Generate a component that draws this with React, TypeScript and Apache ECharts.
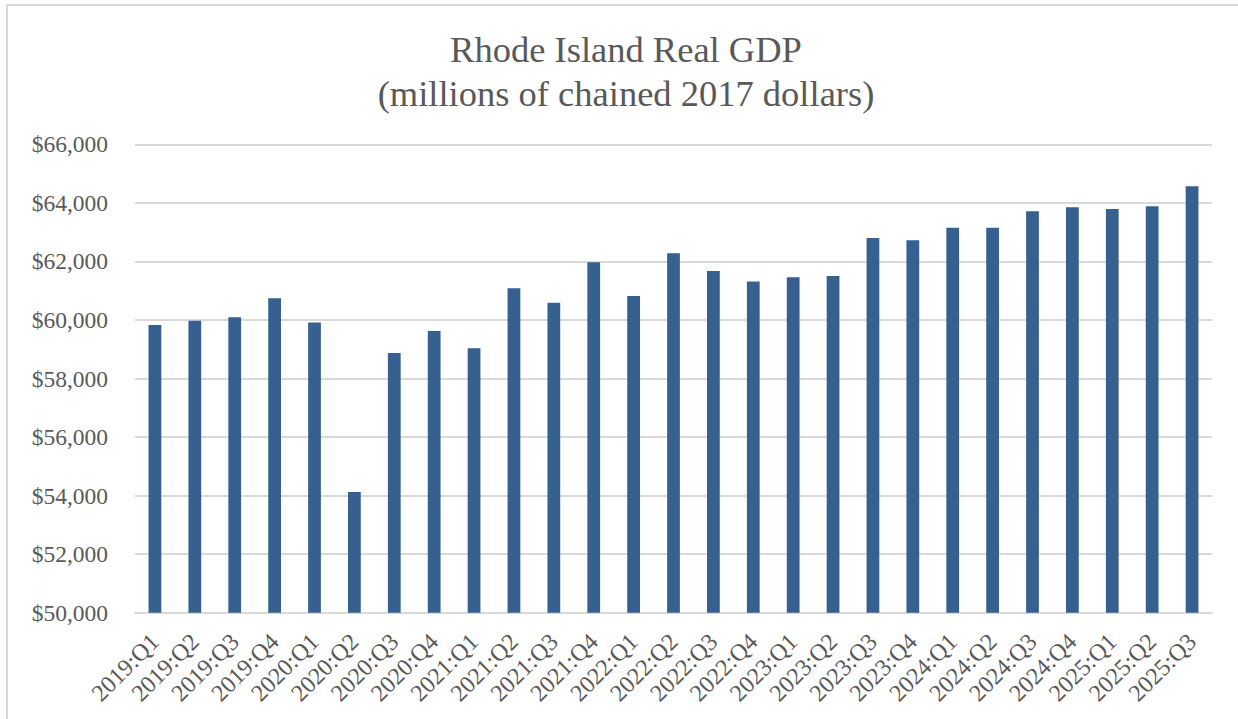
import React, { useEffect, useRef } from "react";
import * as echarts from "echarts";

const categories = [
  "2019:Q1", "2019:Q2", "2019:Q3", "2019:Q4",
  "2020:Q1", "2020:Q2", "2020:Q3", "2020:Q4",
  "2021:Q1", "2021:Q2", "2021:Q3", "2021:Q4",
  "2022:Q1", "2022:Q2", "2022:Q3", "2022:Q4",
  "2023:Q1", "2023:Q2", "2023:Q3", "2023:Q4",
  "2024:Q1", "2024:Q2", "2024:Q3", "2024:Q4",
  "2025:Q1", "2025:Q2", "2025:Q3",
];

const gdpValues = [
  59830, 59970, 60090, 60740,
  59910, 54120, 58870, 59620,
  59030, 61080, 60590, 61970,
  60820, 62280, 61670, 61310,
  61460, 61500, 62800, 62720,
  63150, 63150, 63710, 63850,
  63790, 63880, 64570,
];

const titleLines = ["Rhode Island Real GDP", "(millions of chained 2017 dollars)"];
const yMin = 50000;
const yMax = 66000;
const yStep = 2000;

const FONT = "'Liberation Serif', 'Times New Roman', serif";
const TEXT_COLOR = "#595959";
const GRID_COLOR = "#d9d9d9";
const BAR_COLOR = "#36608f";

export default function App() {
  const ref = useRef<HTMLDivElement>(null);

  useEffect(() => {
    if (!ref.current) return;
    const chart = echarts.init(ref.current, null, { renderer: "svg" });
    chart.setOption({
      animation: false,
      backgroundColor: "#ffffff",
      title: {
        text: titleLines.join("\n"),
        left: 621,
        top: 22,
        textAlign: "center",
        textStyle: {
          fontFamily: FONT,
          fontSize: 36.5,
          fontWeight: "normal",
          color: TEXT_COLOR,
          lineHeight: 44,
        },
      },
      graphic: [
        {
          type: "rect",
          silent: true,
          shape: { x: 7, y: 5, width: 1400, height: 900 },
          style: { fill: "none", stroke: GRID_COLOR, lineWidth: 2 },
        },
      ],
      grid: {
        left: 135,
        right: 26,
        top: 144.3,
        bottom: 106.3,
        containLabel: false,
      },
      xAxis: {
        type: "category",
        data: categories,
        axisLine: { show: true, lineStyle: { color: GRID_COLOR, width: 2 } },
        axisTick: { show: false },
        axisLabel: {
          interval: 0,
          rotate: 45,
          margin: 25,
          fontFamily: FONT,
          fontSize: 24,
          color: TEXT_COLOR,
        },
      },
      yAxis: {
        type: "value",
        min: yMin,
        max: yMax,
        interval: yStep,
        axisLine: { show: false },
        axisTick: { show: false },
        splitLine: { show: true, lineStyle: { color: GRID_COLOR, width: 2 } },
        axisLabel: {
          margin: 27,
          fontFamily: FONT,
          fontSize: 23.5,
          color: TEXT_COLOR,
          formatter: (v: number) => "$" + v.toLocaleString("en-US"),
        },
      },
      series: [
        {
          type: "bar",
          data: gdpValues,
          barWidth: "32%",
          itemStyle: { color: BAR_COLOR },
        },
      ],
    });
    return () => chart.dispose();
  }, []);

  return (
    <div
      ref={ref}
      style={{ position: "absolute", left: 0, top: 0, width: 1238, height: 719 }}
    />
  );
}
